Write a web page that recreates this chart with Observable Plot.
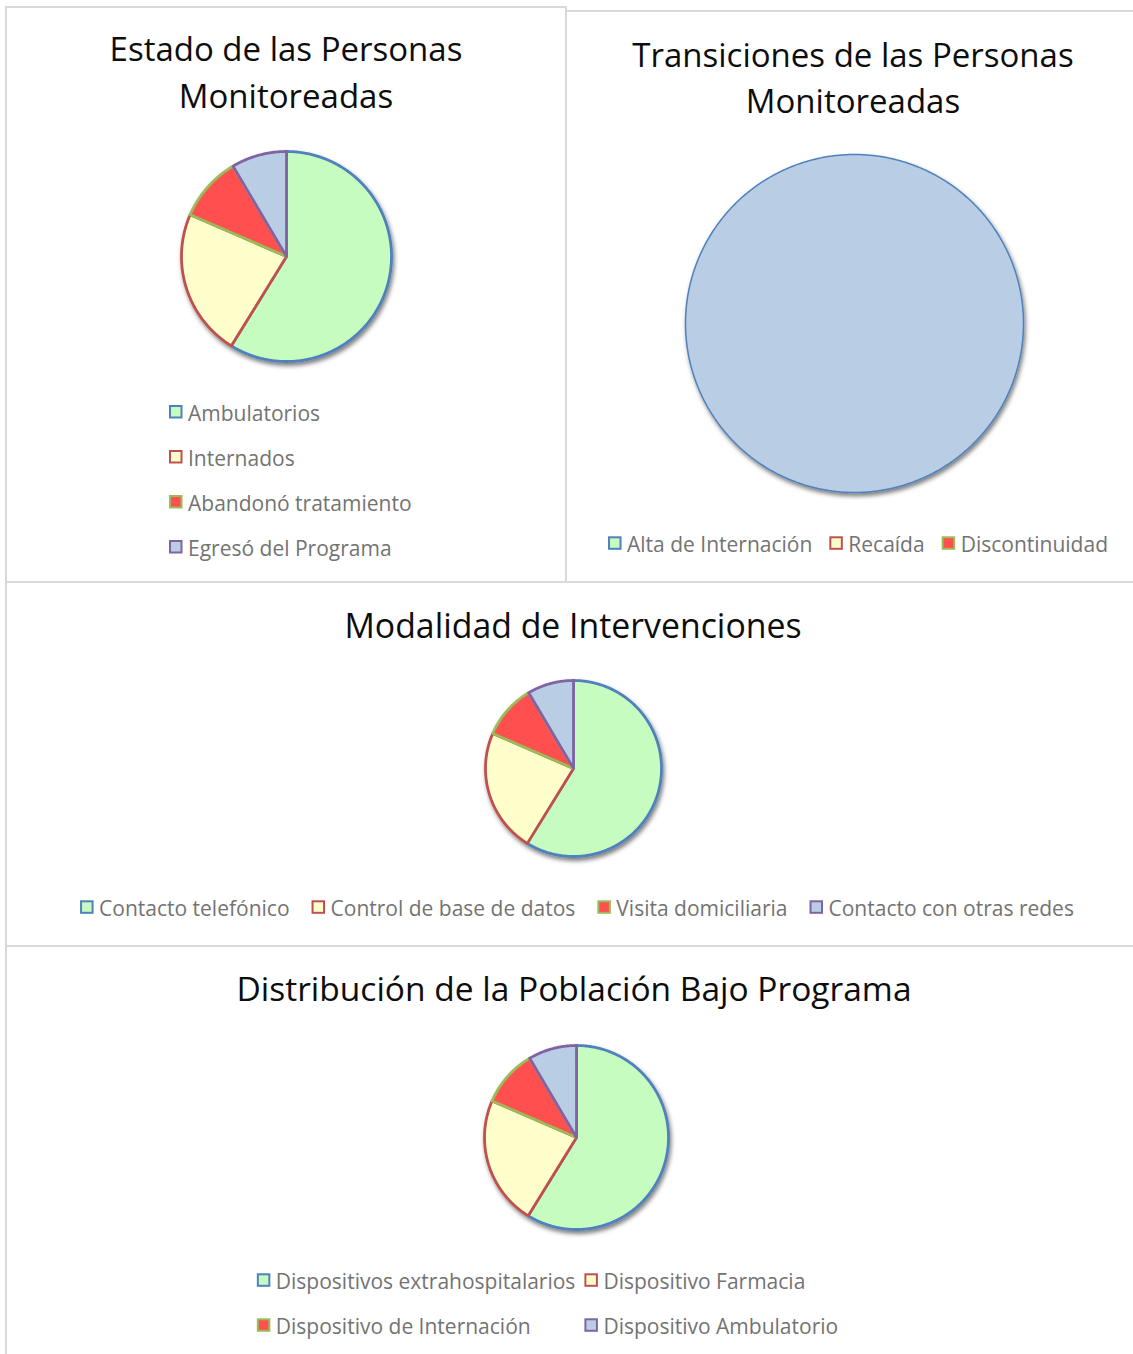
<!DOCTYPE html>
<html lang="es">
<head>
<meta charset="utf-8">
<script src="https://cdn.jsdelivr.net/npm/d3@7"></script>
<script src="https://cdn.jsdelivr.net/npm/@observablehq/plot@0.6"></script>
<style>
  html, body { margin: 0; padding: 0; background: #fff; }
  body { width: 1133px; height: 1354px; position: relative; overflow: hidden; font-family: "Open Sans", "Noto Sans", sans-serif; }
  .panel { position: absolute; border: 2px solid #d9d9d9; box-sizing: border-box; background: #fff; }
  .tarta { position: absolute; }
  #textos { position: absolute; left: 0; top: 0; }
</style>
</head>
<body>
<script>
// ---------- DATOS ----------
const estadoCategorias = ["Ambulatorios", "Internados", "Abandonó tratamiento", "Egresó del Programa"];
const estadoValores = [58.8, 22.7, 10.0, 8.5];

const transicionesCategorias = ["Alta de Internación", "Recaída", "Discontinuidad", ""];
const transicionesValores = [0, 0, 0, 100];

const modalidadCategorias = ["Contacto telefónico", "Control de base de datos", "Visita domiciliaria", "Contacto con otras redes"];
const modalidadValores = [58.8, 22.7, 10.0, 8.5];

const poblacionCategorias = ["Dispositivos extrahospitalarios", "Dispositivo Farmacia", "Dispositivo de Internación", "Dispositivo Ambulatorio"];
const poblacionValores = [58.8, 22.7, 10.0, 8.5];

const titulos = [
  ["Estado de las Personas", "Monitoreadas"],
  ["Transiciones de las Personas", "Monitoreadas"],
  ["Modalidad de Intervenciones"],
  ["Distribución de la Población Bajo Programa"]
];

// ---------- ESTILO ----------
const paletaRelleno = ["#c7fcc1", "#ffffcc", "#ff4f4f", "#b9cde5"];
const paletaBorde = ["#4f81bd", "#c0504d", "#9bbb59", "#8064a2"];
const colorLeyenda = "#737373";

// ---------- PANELES ----------
function panel(left, top, width, height) {
  const d = document.createElement("div");
  d.className = "panel";
  Object.assign(d.style, {left: left + "px", top: top + "px", width: width + "px", height: height + "px"});
  document.body.appendChild(d);
}
panel(5, 6, 562, 577);
panel(565, 10, 572, 573);
panel(5, 581, 1132, 366);
panel(5, 945, 1132, 414);

// ---------- TARTAS ----------
function sectores(cats, vals) {
  const items = cats.map((c, i) => ({c, v: vals[i], i}));
  const arcs = d3.pie().sort(null).value(d => d.v)(items);
  return arcs.filter(a => a.endAngle - a.startAngle > 1e-9).map(a => {
    const span = a.endAngle - a.startAngle;
    const full = span > 2 * Math.PI - 1e-6;
    const n = Math.max(4, Math.ceil(span * 180 / Math.PI * 2));
    const ring = [];
    if (!full) ring.push([0, 0]);
    for (let k = 0; k <= n; k++) {
      const t = a.startAngle + span * k / n;
      ring.push([Math.sin(t), Math.cos(t)]);
    }
    if (!full) ring.push([0, 0]);
    return {type: "Feature", properties: {i: a.data.i, c: a.data.c}, geometry: {type: "Polygon", coordinates: [ring]}};
  });
}

const circulo = {type: "Polygon", coordinates: [d3.range(0, 361, 1).map(a => [Math.sin(a * Math.PI / 180), Math.cos(a * Math.PI / 180)])]};

let nSombra = 0;
function tarta(cats, vals, {cx, cy, r, sw, stroke}) {
  const pad = 12;
  const feats = sectores(cats, vals);
  const svg = Plot.plot({
    width: 2 * r + 2 * pad,
    height: 2 * r + 2 * pad,
    margin: pad,
    projection: {type: "reflect-y", domain: circulo},
    color: {type: "identity"},
    style: {background: "transparent", overflow: "visible"},
    marks: [
      Plot.geo(feats, {
        fill: d => paletaRelleno[d.properties.i],
        stroke: stroke ? stroke : (d => paletaBorde[d.properties.i]),
        strokeWidth: sw,
        strokeLinejoin: "round"
      })
    ]
  });
  const id = "sombra" + (nSombra++);
  const s = d3.select(svg);
  const f = s.insert("defs", ":first-child").append("filter").attr("id", id)
    .attr("x", "-20%").attr("y", "-20%").attr("width", "140%").attr("height", "140%");
  f.append("feDropShadow").attr("dx", 1.5).attr("dy", 3).attr("stdDeviation", 2.2)
    .attr("flood-color", "#000").attr("flood-opacity", 0.5);
  s.selectAll("g[aria-label='geo']").attr("filter", `url(#${id})`);
  svg.classList.add("tarta");
  svg.style.left = (cx - r - pad) + "px";
  svg.style.top = (cy - r - pad) + "px";
  svg.style.position = "absolute";
  document.body.appendChild(svg);
}

// ---------- TEXTOS ----------
const T = d3.select(document.body).append("svg")
  .attr("id", "textos").attr("width", 1133).attr("height", 1354)
  .style("font-family", "'Open Sans', 'Noto Sans', sans-serif");

function titulo(lines, cx, y0, dy, fs) {
  lines.forEach((l, k) => {
    T.append("text").attr("x", cx).attr("y", y0 + k * dy).attr("text-anchor", "middle")
      .attr("font-size", fs).attr("fill", "#0d0d0d").text(l);
  });
}

const FS = 21;
function item(g, x, y, label, i) {
  g.append("rect").attr("x", x + 1).attr("y", y - 14.7).attr("width", 11.5).attr("height", 11.5)
    .attr("fill", paletaRelleno[i]).attr("stroke", paletaBorde[i]).attr("stroke-width", 2);
  const t = g.append("text").attr("x", x + 19).attr("y", y).attr("font-size", FS)
    .attr("fill", colorLeyenda).text(label);
  return 19 + t.node().getComputedTextLength();
}

function leyendaVertical(cats, x, y0, dy) {
  const g = T.append("g");
  cats.forEach((c, i) => { if (c) item(g, x, y0 + i * dy, c, i); });
}

function leyendaFila(cats, idx, cx, y, gap) {
  const g = T.append("g");
  let x = 0;
  idx.forEach(i => {
    if (!cats[i]) return;
    x += item(g, x, y, cats[i], i) + gap;
  });
  const total = x - gap;
  g.attr("transform", `translate(${cx - total / 2},0)`);
}

function leyendaRejilla(cats, cx, y0, dy, gap) {
  const g = T.append("g");
  const w = cats.map((c, i) => item(g, 0, -1000, c, i));
  g.selectAll("*").remove();
  const c1 = Math.max(w[0], w[2]);
  const c2 = Math.max(w[1], w[3]);
  const total = c1 + gap + c2;
  const x0 = cx - total / 2;
  item(g, x0, y0, cats[0], 0);
  item(g, x0 + c1 + gap, y0, cats[1], 1);
  item(g, x0, y0 + dy, cats[2], 2);
  item(g, x0 + c1 + gap, y0 + dy, cats[3], 3);
}

// Panel 1
titulo(titulos[0], 286, 61, 47, 33);
tarta(estadoCategorias, estadoValores, {cx: 286, cy: 255.5, r: 105, sw: 2.8});
leyendaVertical(estadoCategorias, 169, 420.7, 45);

// Panel 2
titulo(titulos[1], 853, 66.5, 46, 33);
tarta(transicionesCategorias, transicionesValores, {cx: 854, cy: 323, r: 169, sw: 1.5, stroke: paletaBorde[0]});
leyendaFila(transicionesCategorias, [0, 1, 2, 3], 858, 552, 17);

// Panel 3
titulo(titulos[2], 573, 638, 46, 33.8);
tarta(modalidadCategorias, modalidadValores, {cx: 573, cy: 767.5, r: 88, sw: 2.8});
leyendaFila(modalidadCategorias, [0, 1, 2, 3], 577, 916, 22);

// Panel 4
titulo(titulos[3], 574, 1001, 46, 33.5);
tarta(poblacionCategorias, poblacionValores, {cx: 576, cy: 1136.5, r: 92, sw: 2.8});
leyendaRejilla(poblacionCategorias, 547.5, 1289, 45, 9);
</script>
</body>
</html>
